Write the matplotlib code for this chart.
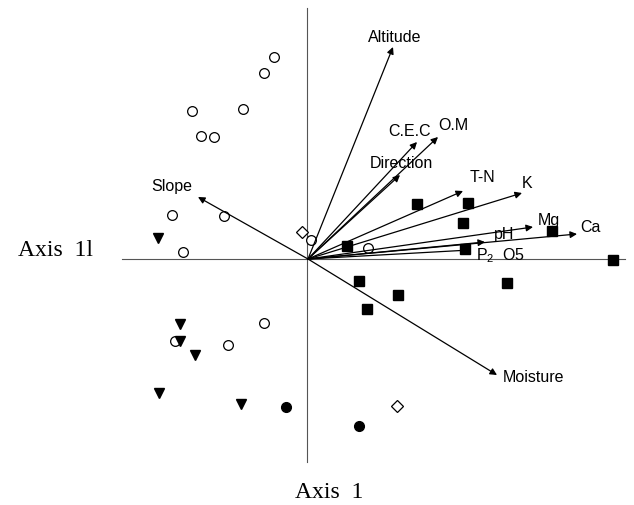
import matplotlib.pyplot as plt

plt.rcParams['font.family'] = ['Liberation Sans', 'DejaVu Sans']
plt.rcParams['mathtext.fontset'] = 'custom'
plt.rcParams['mathtext.rm'] = 'Liberation Sans'
plt.rcParams['mathtext.it'] = 'Liberation Sans'

# environmental vectors (axis 1, axis 2)
var_names = ['Altitude', 'C.E.C', 'O.M', 'Direction', 'T-N', 'K', 'Mg', 'Ca',
             'pH', 'P$_2$  O5', 'Slope', 'Moisture']
var_x = [0.85, 1.09, 1.30, 0.92, 1.55, 2.14, 2.25, 2.69, 1.77, 1.62, -1.10, 1.89]
var_y = [2.12, 1.17, 1.22, 0.84, 0.68, 0.66, 0.32, 0.25, 0.17, 0.09, 0.62, -1.16]
# where each vector's name is written
label_x = [0.87, 1.02, 1.45, 0.93, 1.74, 2.19, 2.41, 2.82, 1.96, 1.93, -1.36, 2.26]
label_y = [2.22, 1.28, 1.33, 0.96, 0.81, 0.76, 0.39, 0.32, 0.24, 0.03, 0.73, -1.19]

# plot scores by group
open_x = [-0.34, -0.44, -1.16, -0.65, -1.07, -0.94, -1.36, -0.84, -1.25, 0.03, 0.60, -0.44, -1.33, -0.80]
open_y = [2.02, 1.86, 1.48, 1.50, 1.23, 1.22, 0.44, 0.43, 0.07, 0.19, 0.11, -0.64, -0.82, -0.86]
tri_x = [-1.50, -1.28, -1.28, -1.13, -1.49, -0.67]
tri_y = [0.21, -0.65, -0.82, -0.96, -1.34, -1.45]
dot_x = [-0.22, 0.51]
dot_y = [-1.48, -1.67]
dia_x = [-0.06, 0.89]
dia_y = [0.27, -1.47]
sq_x = [1.09, 1.60, 1.55, 2.44, 0.39, 1.57, 3.05, 0.51, 0.90, 0.59, 1.99]
sq_y = [0.55, 0.56, 0.36, 0.28, 0.13, 0.10, -0.01, -0.22, -0.36, -0.50, -0.24]

fig = plt.figure(figsize=(6.34, 5.05), dpi=100)
ax = fig.add_axes([0, 0, 1, 1])
ax.set_xlim(-3.08, 3.26)
ax.set_ylim(-2.46, 2.59)
ax.axis('off')

# cross-hair axes
ax.plot([-1.86, 3.17], [0, 0], color='#555555', lw=0.8)
ax.plot([-0.01, -0.01], [2.51, -2.03], color='#555555', lw=0.8)

for name, x, y, lx, ly in zip(var_names, var_x, var_y, label_x, label_y):
    ax.annotate('', xy=(x, y), xytext=(0, 0),
                arrowprops=dict(arrowstyle='-|>', color='black', lw=0.9,
                                mutation_scale=10, shrinkA=0, shrinkB=0))
    ax.text(lx, ly, name, fontsize=11.5, ha='center', va='center')

ax.plot(open_x, open_y, 'o', ms=7, mfc='white', mec='black', mew=0.9)
ax.plot(tri_x, tri_y, 'v', ms=6.5, color='black')
ax.plot(dot_x, dot_y, 'o', ms=7, color='black')
ax.plot(dia_x, dia_y, 'D', ms=6, mfc='white', mec='black', mew=0.9)
ax.plot(sq_x, sq_y, 's', ms=6.5, color='black')

ax.text(-2.90, 0.09, 'Axis  1l', fontsize=17, family='Liberation Serif',
        ha='left', va='center')
ax.text(0.21, -2.34, 'Axis  1', fontsize=17, family='Liberation Serif',
        ha='center', va='center')

fig.savefig('out.png', dpi=100)
